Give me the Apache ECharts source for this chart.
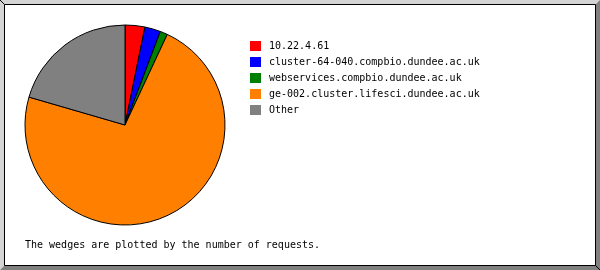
<!DOCTYPE html>
<html>
<head>
<meta charset="utf-8">
<style>
html,body{margin:0;padding:0;background:#fff;}
#chart{width:600px;height:270px;}
</style>
<script src="https://cdn.jsdelivr.net/npm/echarts@6/dist/echarts.min.js"></script>
</head>
<body>
<div id="chart"></div>
<script>
const categories = ["10.22.4.61", "cluster-64-040.compbio.dundee.ac.uk", "webservices.compbio.dundee.ac.uk", "ge-002.cluster.lifesci.dundee.ac.uk", "Other"];
const requestShares = [3.2, 2.55, 1.2, 72.55, 20.5];
const sliceColors = ["#ff0000", "#0000ff", "#008000", "#ff8000", "#808080"];
const footnote = "The wedges are plotted by the number of requests.";

const chart = echarts.init(document.getElementById('chart'), null, {renderer: 'canvas'});
const FONT = '"DejaVu Sans Mono", "Liberation Mono", monospace';

chart.setOption({
  animation: false,
  backgroundColor: '#ffffff',
  color: sliceColors,
  graphic: [
    {type: 'rect', shape: {x: 0, y: 0, width: 600, height: 270}, style: {fill: '#d4d4d4'}, z: -10, silent: true},
    {type: 'polygon', shape: {points: [[600,0],[600,270],[0,270],[5,265],[595,265],[595,5]]}, style: {fill: '#808080'}, z: -9, silent: true},
    {type: 'rect', shape: {x: 4.5, y: 4.5, width: 591, height: 261}, style: {fill: '#ffffff', stroke: '#000000', lineWidth: 1}, z: -8, silent: true},
    {type: 'line', shape: {x1: 0, y1: 0, x2: 4.5, y2: 4.5}, style: {stroke: '#000', lineWidth: 1}, z: -7, silent: true},
    {type: 'line', shape: {x1: 595.5, y1: 265.5, x2: 600, y2: 270}, style: {stroke: '#000', lineWidth: 1}, z: -7, silent: true},
    {type: 'text', left: 25, top: 240, style: {text: footnote, font: '10px ' + FONT, fill: '#000'}, silent: true}
  ],
  legend: {
    orient: 'vertical',
    left: 250,
    top: 41,
    padding: 0,
    itemWidth: 11,
    itemHeight: 10,
    itemGap: 6,
    icon: 'rect',
    selectedMode: false,
    itemStyle: {borderWidth: 0},
    textStyle: {fontFamily: FONT, fontSize: 10, color: '#000', padding: [0, 0, 0, 3], lineHeight: 10},
    data: categories
  },
  series: [{
    type: 'pie',
    center: [125, 125],
    radius: [0, 100],
    startAngle: 90,
    clockwise: true,
    label: {show: false},
    labelLine: {show: false},
    emphasis: {disabled: true},
    itemStyle: {borderColor: '#000', borderWidth: 1},
    data: categories.map((c, i) => ({name: c, value: requestShares[i]}))
  }]
});
</script>
</body>
</html>
